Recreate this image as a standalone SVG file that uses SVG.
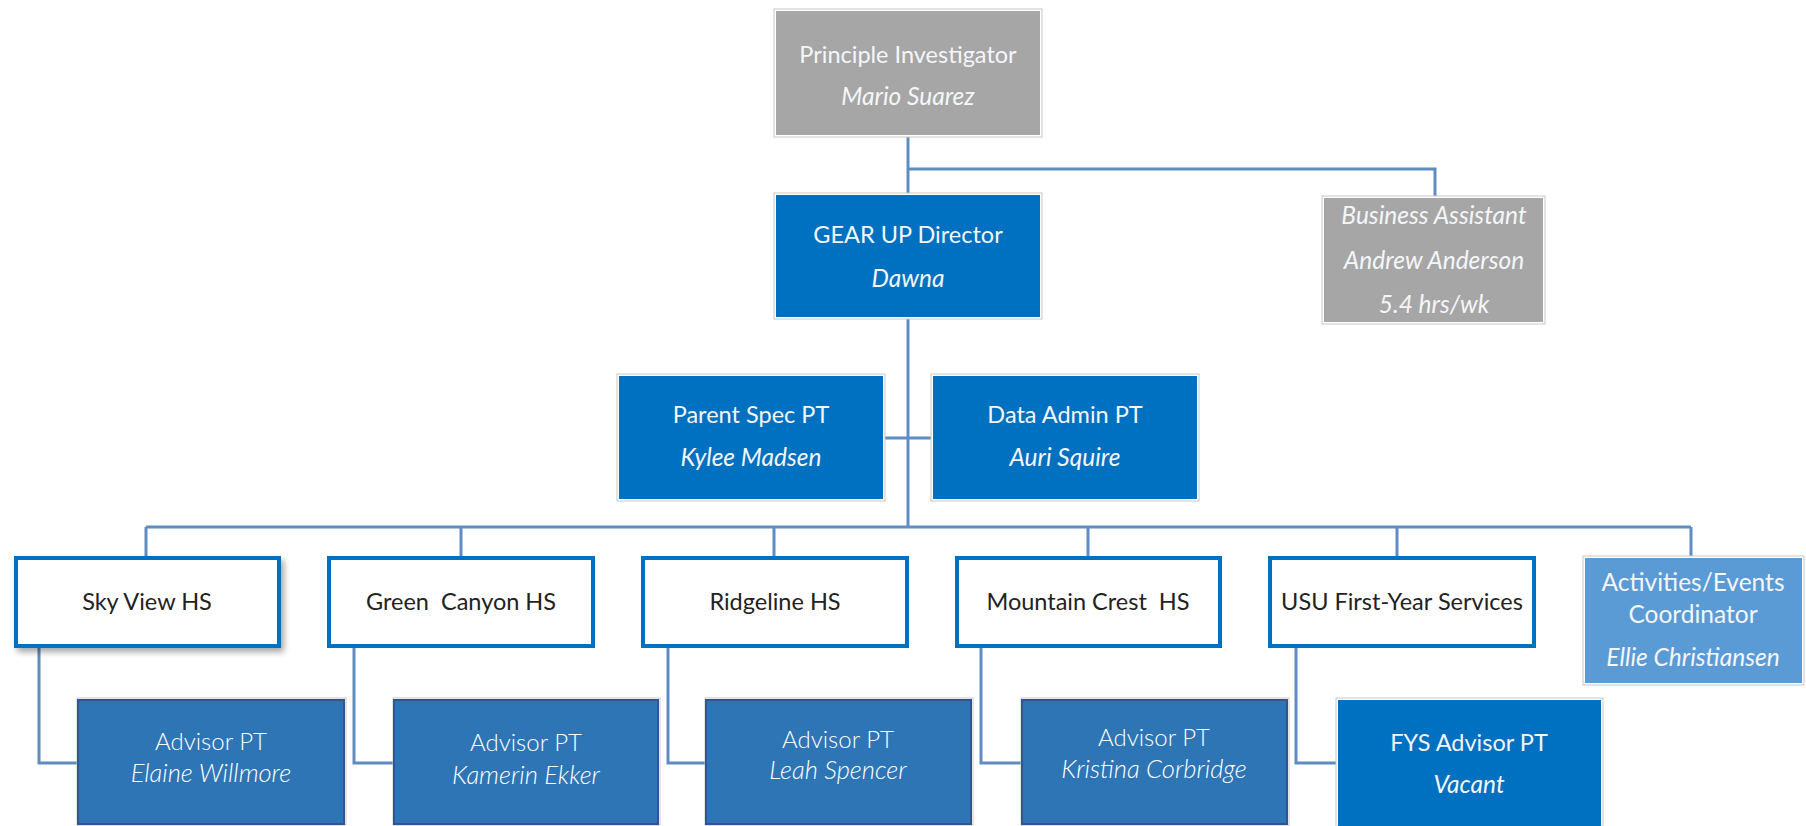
<svg xmlns="http://www.w3.org/2000/svg" width="1806" height="826" viewBox="0 0 1806 826">
  <style>
    .frame { fill: #ffffff; stroke: #c8c8c8; stroke-width: 1; }
    .grey { fill: #a6a6a6; }
    .blue { fill: #0070c0; }
    .lightblue { fill: #5b9bd5; }
    .advisor { fill: #2e75b6; stroke: #2f5597; stroke-width: 2; }
    .school { fill: #ffffff; stroke: #0070c0; stroke-width: 4; }
    .conn { fill: none; stroke: #5e8cc3; stroke-width: 3; }
    text { font-family: Lato, "Open Sans", "Liberation Sans", sans-serif; font-size: 23.5px; text-anchor: middle; }
    .lt { fill: #f4f6f9; }
    .dk { fill: #222222; }
    .it { font-style: italic; font-size: 24.5px; }
    .thin { font-weight: 300; fill: #ffffff; font-size: 24px; }
    .thin.it { font-size: 25.5px; }
    .pre { white-space: pre; }
  </style>
  <defs>
    <filter id="shadow" x="-10%" y="-10%" width="125%" height="140%">
      <feDropShadow dx="3" dy="4" stdDeviation="3" flood-color="#000000" flood-opacity="0.35"/>
    </filter>
  </defs>

  <!-- connectors -->
  <g id="connectors">
    <path class="conn" d="M908 137 V193"/>
    <path class="conn" d="M908 169 H1435 V196"/>
    <path class="conn" d="M908 319 V527"/>
    <path class="conn" d="M885 438 H931"/>
    <path class="conn" d="M146 527 H1691"/>
    <path class="conn" d="M146 527 V556 M461 527 V556 M774 527 V556 M1088 527 V556 M1397 527 V556 M1691 527 V556"/>
    <path class="conn" d="M39 648 V763 H77"/>
    <path class="conn" d="M354 648 V763 H393"/>
    <path class="conn" d="M668 648 V763 H705"/>
    <path class="conn" d="M981 648 V763 H1021"/>
    <path class="conn" d="M1296 648 V763 H1336"/>
  </g>

  <!-- leadership -->
  <g id="principal-investigator">
    <rect class="frame" x="774" y="9" width="268" height="128"/>
    <rect class="grey" x="776" y="11" width="264" height="124"/>
    <text class="lt" x="908" y="63">Principle Investigator</text>
    <text class="lt it" x="908" y="105">Mario Suarez</text>
  </g>

  <g id="gear-up-director">
    <rect class="frame" x="774" y="193" width="268" height="126"/>
    <rect class="blue" x="776" y="195" width="264" height="122"/>
    <text class="lt" x="908" y="243">GEAR UP Director</text>
    <text class="lt it" x="908" y="287">Dawna</text>
  </g>

  <g id="business-assistant">
    <rect class="frame" x="1322" y="196" width="223" height="128"/>
    <rect class="grey" x="1324" y="198" width="219" height="124"/>
    <text class="lt it" x="1434" y="224">Business Assistant</text>
    <text class="lt it" x="1434" y="269">Andrew Anderson</text>
    <text class="lt it" x="1434" y="313">5.4 hrs/wk</text>
  </g>

  <g id="parent-spec">
    <rect class="frame" x="617" y="374" width="268" height="127"/>
    <rect class="blue" x="619" y="376" width="264" height="123"/>
    <text class="lt" x="751" y="423">Parent Spec PT</text>
    <text class="lt it" x="751" y="466">Kylee Madsen</text>
  </g>

  <g id="data-admin">
    <rect class="frame" x="931" y="374" width="268" height="127"/>
    <rect class="blue" x="933" y="376" width="264" height="123"/>
    <text class="lt" x="1065" y="423">Data Admin PT</text>
    <text class="lt it" x="1065" y="466">Auri Squire</text>
  </g>

  <!-- schools -->
  <g id="sky-view">
    <rect class="school" x="16" y="558" width="263" height="88" filter="url(#shadow)"/>
    <text class="dk" x="147" y="610">Sky View HS</text>
  </g>

  <g id="green-canyon">
    <rect class="school" x="329" y="558" width="264" height="88"/>
    <text class="dk pre" xml:space="preserve" x="461" y="610">Green  Canyon HS</text>
  </g>

  <g id="ridgeline">
    <rect class="school" x="643" y="558" width="264" height="88"/>
    <text class="dk" x="775" y="610">Ridgeline HS</text>
  </g>

  <g id="mountain-crest">
    <rect class="school" x="957" y="558" width="263" height="88"/>
    <text class="dk pre" xml:space="preserve" x="1088" y="610">Mountain Crest  HS</text>
  </g>

  <g id="usu-first-year">
    <rect class="school" x="1270" y="558" width="264" height="88"/>
    <text class="dk" x="1402" y="610">USU First-Year Services</text>
  </g>

  <g id="activities-coordinator">
    <rect class="frame" x="1583" y="556" width="221" height="129"/>
    <rect class="lightblue" x="1585" y="558" width="217" height="125"/>
    <text class="lt" x="1693" y="591" style="font-size:24.5px">Activities/Events</text>
    <text class="lt" x="1693" y="623" style="font-size:24.5px">Coordinator</text>
    <text class="lt it" x="1693" y="666">Ellie Christiansen</text>
  </g>

  <!-- advisors -->
  <g id="advisor-elaine">
    <rect class="frame" x="77" y="698" width="269" height="127"/>
    <rect class="advisor" x="78" y="700" width="266" height="124"/>
    <text class="lt thin" x="211" y="750">Advisor PT</text>
    <text class="lt thin it" x="211" y="782">Elaine Willmore</text>
  </g>

  <g id="advisor-kamerin">
    <rect class="frame" x="393" y="698" width="267" height="127"/>
    <rect class="advisor" x="394" y="700" width="264" height="124"/>
    <text class="lt thin" x="526" y="751">Advisor PT</text>
    <text class="lt thin it" x="526" y="784">Kamerin Ekker</text>
  </g>

  <g id="advisor-leah">
    <rect class="frame" x="705" y="698" width="268" height="127"/>
    <rect class="advisor" x="706" y="700" width="265" height="124"/>
    <text class="lt thin" x="838" y="748">Advisor PT</text>
    <text class="lt thin it" x="838" y="779">Leah Spencer</text>
  </g>

  <g id="advisor-kristina">
    <rect class="frame" x="1021" y="698" width="268" height="127"/>
    <rect class="advisor" x="1022" y="700" width="265" height="124"/>
    <text class="lt thin" x="1154" y="746">Advisor PT</text>
    <text class="lt thin it" x="1154" y="778">Kristina Corbridge</text>
  </g>

  <g id="fys-advisor">
    <rect class="frame" x="1336" y="698" width="267" height="128"/>
    <rect class="blue" x="1338" y="700" width="263" height="126"/>
    <text class="lt" x="1469" y="751">FYS Advisor PT</text>
    <text class="lt it" x="1469" y="793">Vacant</text>
  </g>
</svg>
